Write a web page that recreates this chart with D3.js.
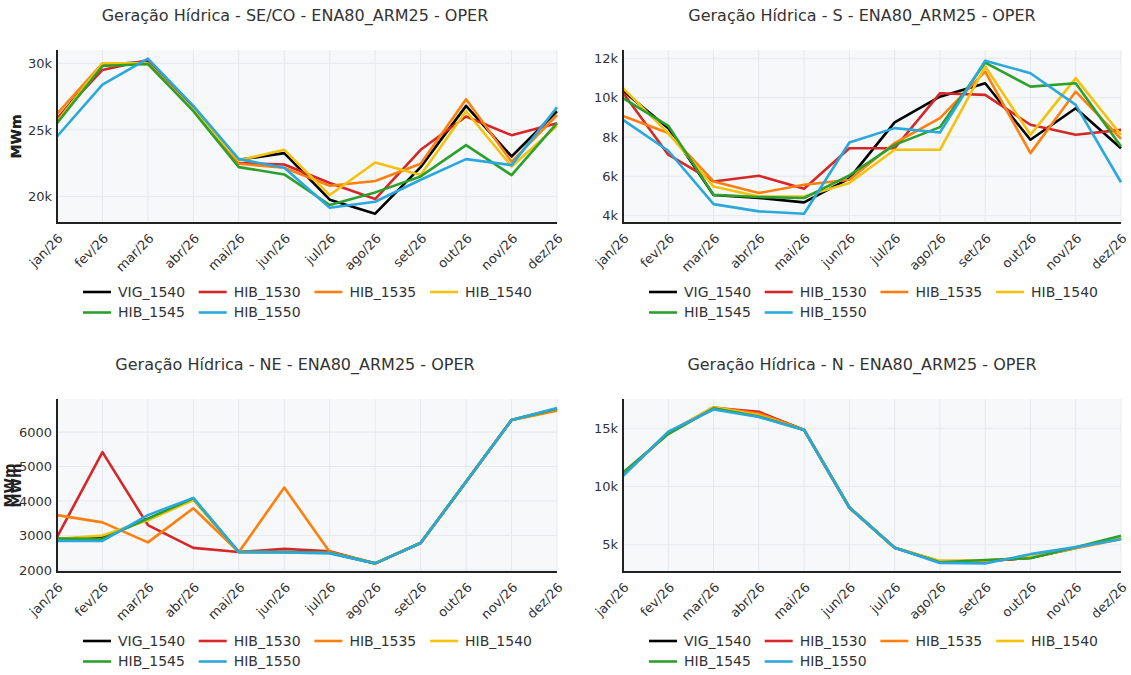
<!DOCTYPE html>
<html>
<head>
<meta charset="utf-8">
<script src="https://cdn.jsdelivr.net/npm/d3@7"></script>
<style>
  html, body { margin: 0; padding: 0; background: #fff; }
  svg { display: block; font-family: "DejaVu Sans", Verdana, sans-serif; }
</style>
</head>
<body>
<svg id="chart" width="1131" height="675"></svg>
<script>
const months = ["jan/26", "fev/26", "mar/26", "abr/26", "mai/26", "jun/26",
  "jul/26", "ago/26", "set/26", "out/26", "nov/26", "dez/26"];

const seriesNames = ["VIG_1540", "HIB_1530", "HIB_1535", "HIB_1540", "HIB_1545", "HIB_1550"];
const seriesColors = ["#000000", "#d62728", "#ff7f0e", "#f4c20d", "#2ca02c", "#2aa8dc"];

const panelTitles = [
  "Geração Hídrica - SE/CO - ENA80_ARM25 - OPER",
  "Geração Hídrica - S - ENA80_ARM25 - OPER",
  "Geração Hídrica - NE - ENA80_ARM25 - OPER",
  "Geração Hídrica - N - ENA80_ARM25 - OPER",
];

// one row per series, same order as seriesNames
const seValues = [
  [25750, 29900, 30100, 26600, 22750, 23250, 19750, 18700, 22200, 26800, 23000, 26400],
  [25850, 29500, 30250, 26500, 22500, 22400, 21000, 19800, 23500, 26000, 24600, 25500],
  [26200, 30000, 29950, 26500, 22450, 22150, 20800, 21150, 22450, 27300, 22600, 26100],
  [25600, 30000, 30000, 26500, 22700, 23500, 20100, 22550, 21600, 26400, 22250, 25300],
  [25500, 29800, 29950, 26400, 22200, 21650, 19350, 20300, 21500, 23850, 21600, 25500],
  [24500, 28400, 30350, 26800, 22800, 22150, 19150, 19600, 21250, 22800, 22350, 26700],
];

const sValues = [
  [10350, 8450, 5050, 4900, 4680, 5900, 8740, 10050, 10730, 7860, 9460, 7430],
  [10250, 7100, 5740, 6030, 5370, 7430, 7430, 10220, 10140, 8620, 8110, 8360],
  [9070, 8200, 5740, 5150, 5570, 5830, 7690, 8960, 11320, 7180, 10310, 7900],
  [10480, 8200, 5480, 4980, 4980, 5660, 7350, 7350, 11580, 8110, 10990, 8100],
  [9970, 8570, 5060, 4950, 4900, 6050, 7600, 8500, 11780, 10560, 10730, 7520],
  [8870, 7300, 4590, 4220, 4100, 7720, 8450, 8230, 11880, 11240, 9630, 5700],
];

const neValues = [
  [2900, 2950, 3480, 4050, 2520, 2520, 2500, 2190, 2780, 4560, 6350, 6680],
  [2950, 5420, 3300, 2640, 2520, 2610, 2540, 2190, 2780, 4560, 6350, 6650],
  [3590, 3380, 2800, 3790, 2520, 4390, 2520, 2190, 2780, 4560, 6350, 6620],
  [2900, 3000, 3440, 4030, 2520, 2520, 2500, 2190, 2780, 4560, 6350, 6680],
  [2910, 2900, 3490, 4080, 2520, 2520, 2500, 2190, 2780, 4560, 6350, 6680],
  [2840, 2840, 3590, 4090, 2520, 2510, 2480, 2190, 2780, 4560, 6350, 6700],
];

const nValues = [
  [11000, 14600, 16700, 16300, 14850, 8200, 4750, 3550, 3600, 3900, 4750, 5600],
  [11000, 14600, 16750, 16400, 14850, 8200, 4750, 3550, 3600, 3900, 4750, 5600],
  [11000, 14600, 16800, 16250, 14850, 8200, 4750, 3600, 3650, 3900, 4700, 5500],
  [11100, 14550, 16800, 16100, 14850, 8200, 4750, 3620, 3650, 3950, 4750, 5650],
  [11200, 14500, 16700, 16000, 14850, 8200, 4750, 3500, 3700, 3850, 4800, 5780],
  [10900, 14700, 16600, 15950, 14850, 8200, 4750, 3450, 3400, 4200, 4800, 5480],
];

const panelValues = [seValues, sValues, neValues, nValues];
const yTickValues = [
  [20000, 25000, 30000],
  [4000, 6000, 8000, 10000, 12000],
  [2000, 3000, 4000, 5000, 6000],
  [5000, 10000, 15000],
];
const yDomains = [[18000, 31000], [3630, 12420], [1940, 6960], [2670, 17500]];
const yTickFormats = [d3.format("~s"), d3.format("~s"), d3.format("d"), d3.format("~s")];

// layout of the 2x2 grid
const cols = [{ x0: 57, x1: 557, title: 295 }, { x0: 623, x1: 1121, title: 862 }];
const rows = [{ y0: 50, y1: 223 }, { y0: 399, y1: 572 }];

const svg = d3.select("#chart");

panelTitles.forEach((title, i) => {
  const c = cols[i % 2];
  const r = rows[Math.floor(i / 2)];
  const g = svg.append("g");

  const x = d3.scalePoint().domain(months).range([c.x0, c.x1]);
  const y = d3.scaleLinear().domain(yDomains[i]).range([r.y1, r.y0]);

  g.append("rect")
    .attr("x", c.x0).attr("y", r.y0)
    .attr("width", c.x1 - c.x0).attr("height", r.y1 - r.y0)
    .attr("fill", "#f6f8fa");

  // grid
  g.append("g").selectAll("line").data(months).join("line")
    .attr("x1", (d) => x(d)).attr("x2", (d) => x(d))
    .attr("y1", r.y0).attr("y2", r.y1)
    .attr("stroke", "#e6e9ed").attr("stroke-width", 1);
  g.append("g").selectAll("line").data(yTickValues[i]).join("line")
    .attr("x1", c.x0).attr("x2", c.x1)
    .attr("y1", (d) => y(d)).attr("y2", (d) => y(d))
    .attr("stroke", "#e6e9ed").attr("stroke-width", 1);

  const line = d3.line()
    .x((d, k) => x(months[k]))
    .y((d) => y(d));

  panelValues[i].forEach((vals, s) => {
    g.append("path")
      .attr("d", line(vals))
      .attr("fill", "none")
      .attr("stroke", seriesColors[s])
      .attr("stroke-width", 2.6)
      .attr("stroke-linejoin", "round");
  });

  // axes
  const yAxis = d3.axisLeft(y)
    .tickValues(yTickValues[i])
    .tickSize(0)
    .tickPadding(5)
    .tickFormat(yTickFormats[i]);
  const ya = g.append("g").attr("transform", `translate(${c.x0},0)`).call(yAxis);
  ya.select(".domain").attr("stroke", "#222").attr("stroke-width", 2)
    .attr("d", `M0,${r.y0}V${r.y1}`);
  ya.selectAll("text").attr("font-size", 13).attr("fill", "#333")
    .attr("font-family", "DejaVu Sans");

  const xAxis = d3.axisBottom(x).tickSize(0);
  const xa = g.append("g").attr("transform", `translate(0,${r.y1})`).call(xAxis);
  xa.select(".domain").attr("stroke", "#222").attr("stroke-width", 2)
    .attr("d", `M${c.x0 - 1},0H${c.x1}`);
  xa.selectAll("text")
    .attr("font-size", 13).attr("fill", "#333")
    .attr("font-family", "DejaVu Sans")
    .attr("text-anchor", "end")
    .attr("y", 0).attr("dy", "0.35em")
    .attr("transform", "translate(3,13) rotate(-45)");

  // y title (pushed left on the NE panel by its wider tick labels)
  const yTitleX = i === 2 ? 9 : 16;
  g.append("text")
    .attr("transform", `translate(${yTitleX},${(r.y0 + r.y1) / 2}) rotate(-90)`)
    .attr("text-anchor", "middle").attr("dy", "0.35em")
    .attr("font-size", 14).attr("font-weight", "bold").attr("fill", "#222")
    .text("MWm");

  // title
  g.append("text")
    .attr("x", c.title).attr("y", r.y0 - 29)
    .attr("text-anchor", "middle")
    .attr("font-size", 16).attr("fill", "#333")
    .text(title);

  // legend
  const legend = g.append("g");
  seriesNames.forEach((name, s) => {
    const lx = c.x0 + 26 + (s % 4) * 115.7;
    const ly = r.y1 + 69 + Math.floor(s / 4) * 20.5;
    legend.append("line")
      .attr("x1", lx).attr("x2", lx + 28)
      .attr("y1", ly).attr("y2", ly)
      .attr("stroke", seriesColors[s]).attr("stroke-width", 2.6);
    legend.append("text")
      .attr("x", lx + 35).attr("y", ly).attr("dy", "0.35em")
      .attr("font-size", 14).attr("fill", "#333")
      .text(name);
  });
});
</script>
</body>
</html>
